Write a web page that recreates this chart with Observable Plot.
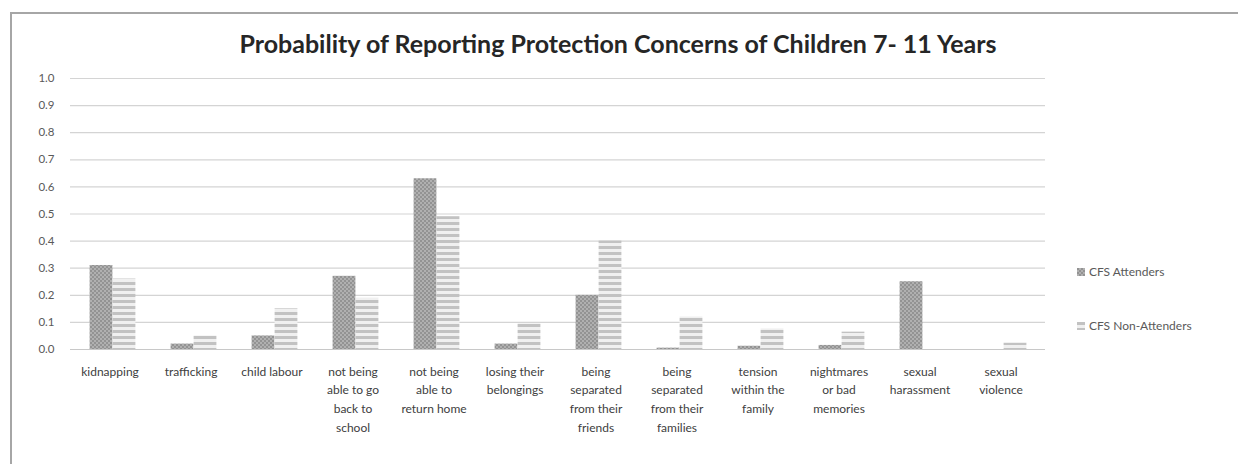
<!DOCTYPE html>
<html>
<head>
<meta charset="utf-8">
<script src="https://cdn.jsdelivr.net/npm/d3@7"></script>
<script src="https://cdn.jsdelivr.net/npm/@observablehq/plot@0.6"></script>
<style>
  html, body { margin: 0; padding: 0; background: #fff; }
  #wrap { position: relative; width: 1238px; height: 464px; overflow: hidden; font-family: Lato, "Open Sans", sans-serif; }
  #frame { position: absolute; left: 10px; top: 12px; width: 1300px; height: 500px; border-top: 2px solid #a6a6a6; border-left: 2px solid #a6a6a6; box-sizing: border-box; }
  #title { position: absolute; left: 0; width: 1238px; top: 28px; text-align: center; font-weight: bold; font-size: 25px; color: #262626; }
  #title span { position: relative; left: -1px; }
  .leg { position: absolute; left: 1077px; font-size: 12px; color: #595959; display: flex; align-items: center; }
  .leg svg { margin-right: 4px; }
  #chart { position: absolute; left: 0; top: 0; }
</style>
</head>
<body>
<div id="wrap">
  <div id="frame"></div>
  <div id="chart"></div>
  <div id="title"><span>Probability of Reporting Protection Concerns of Children 7- 11 Years</span></div>
  <div class="leg" style="top:264px"><svg width="8" height="8"><rect width="8" height="8" fill="url(#patA)"/></svg>CFS Attenders</div>
  <div class="leg" style="top:318px"><svg width="8" height="8"><rect width="8" height="8" fill="url(#patN)"/></svg>CFS Non-Attenders</div>
</div>
<script>
const categories = [
  "kidnapping", "trafficking", "child labour", "not being able to go back to school",
  "not being able to return home", "losing their belongings", "being separated from their friends",
  "being separated from their families", "tension within the family", "nightmares or bad memories",
  "sexual harassment", "sexual violence"
];
const tickLabels = [
  "kidnapping", "trafficking", "child labour", "not being\nable to go\nback to\nschool",
  "not being\nable to\nreturn home", "losing their\nbelongings", "being\nseparated\nfrom their\nfriends",
  "being\nseparated\nfrom their\nfamilies", "tension\nwithin the\nfamily", "nightmares\nor bad\nmemories",
  "sexual\nharassment", "sexual\nviolence"
];
const seriesNames = ["CFS Attenders", "CFS Non-Attenders"];
const attenders    = [0.31, 0.02, 0.05, 0.27, 0.63, 0.02, 0.20, 0.005, 0.012, 0.015, 0.25, 0.0];
const nonAttenders = [0.26, 0.05, 0.15, 0.19, 0.49, 0.095, 0.40, 0.12, 0.076, 0.064, 0.0, 0.023];
const yTicks = [0, 0.1, 0.2, 0.3, 0.4, 0.5, 0.6, 0.7, 0.8, 0.9, 1.0];

const dataA = categories.map((c, i) => ({cat: c, series: seriesNames[0], value: attenders[i]}));
const dataN = categories.map((c, i) => ({cat: c, series: seriesNames[1], value: nonAttenders[i]}));
const labelOf = new Map(categories.map((c, i) => [c, tickLabels[i]]));

const plot = Plot.plot({
  width: 1238,
  height: 464,
  marginLeft: 70,
  marginRight: 193,
  marginTop: 78,
  marginBottom: 115,
  style: {fontFamily: "Lato, 'Open Sans', sans-serif", background: "transparent"},
  x: {domain: categories, padding: 0},
  y: {domain: [0, 1]},
  marks: [
    Plot.gridY(yTicks, {stroke: "#d4d4d4", strokeOpacity: 1, strokeWidth: 1.2}),
    Plot.barY(dataA, {x: "cat", y: "value", fill: "url(#patA)", insetLeft: 17.6, insetRight: 40.6}),
    Plot.barY(dataN, {x: "cat", y: "value", fill: "url(#patN)", insetLeft: 40.6, insetRight: 17.6}),
    Plot.ruleY([0], {stroke: "#c8c8c8", strokeWidth: 1.2}),
    Plot.ruleX([0], {x: () => 0, frameAnchor: "left", stroke: "#e0e0e0"}),
    Plot.axisY(yTicks, {tickSize: 0, tickPadding: 16, tickFormat: d3.format(".1f"), fontSize: 11.5, fill: "#595959", label: null}),
    Plot.axisX({tickSize: 0, tickPadding: 13, tickFormat: d => labelOf.get(d), fontSize: 12, lineHeight: 1.55, fill: "#404040", label: null, textAnchor: "middle", dx: -3})
  ]
});

const svg = d3.select(plot);
const defs = svg.insert("defs", ":first-child");
const pA = defs.append("pattern").attr("id", "patA").attr("patternUnits", "userSpaceOnUse").attr("width", 4).attr("height", 4);
pA.append("rect").attr("width", 4).attr("height", 4).attr("fill", "#b0b0b0");
pA.append("rect").attr("x", 0).attr("y", 0).attr("width", 2).attr("height", 2).attr("fill", "#939393");
pA.append("rect").attr("x", 2).attr("y", 2).attr("width", 2).attr("height", 2).attr("fill", "#939393");
const pN = defs.append("pattern").attr("id", "patN").attr("patternUnits", "userSpaceOnUse").attr("width", 6).attr("height", 6);
pN.append("rect").attr("width", 6).attr("height", 6).attr("fill", "#f0f0f0");
pN.append("rect").attr("y", 0).attr("width", 6).attr("height", 3).attr("fill", "#c2c2c2");

document.getElementById("chart").appendChild(plot);
</script>
</body>
</html>
